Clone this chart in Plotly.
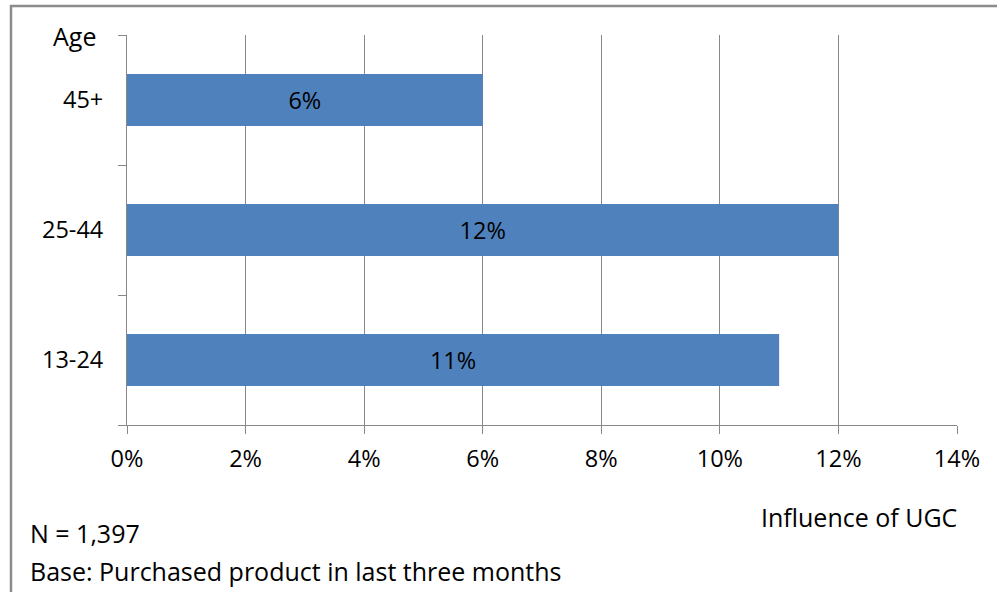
import plotly.graph_objects as go

categories = ["13-24", "25-44", "45+"]
values = [11, 12, 6]
bar_labels = ["11%", "12%", "6%"]
x_ticks = [0, 2, 4, 6, 8, 10, 12, 14]
x_tick_labels = ["0%", "2%", "4%", "6%", "8%", "10%", "12%", "14%"]

W, H = 997, 592
L, R, T, B = 127, 40, 35, 167
pw = W - L - R
ph = H - T - B

def px_x(p):
    return (p - L) / pw

def px_y(p):
    return (H - B - p) / ph

FONT = "Open Sans, sans-serif"
FS = 23.5
FS_NOTE = 25
GRID = "#888888"

fig = go.Figure(go.Bar(
    y=categories, x=values, orientation="h",
    marker=dict(color="#4F81BD", line=dict(width=0)),
    width=0.4,
    text=bar_labels, textposition="inside", insidetextanchor="middle",
    textfont=dict(family=FONT, size=FS, color="#000000"),
    hoverinfo="skip",
))

fig.update_layout(
    width=W, height=H,
    margin=dict(l=L, r=R, t=T, b=B),
    paper_bgcolor="white", plot_bgcolor="white",
    showlegend=False,
    uniformtext=dict(minsize=FS, mode="show"),
    font=dict(family=FONT, size=FS, color="#000000"),
    xaxis=dict(
        range=[0, 14], tickvals=x_ticks, ticktext=x_tick_labels,
        showgrid=True, gridcolor=GRID, gridwidth=1,
        showline=True, linecolor=GRID, linewidth=1,
        ticks="outside", ticklen=8, tickcolor=GRID,
        zeroline=False, fixedrange=True,
        tickfont=dict(family=FONT, size=FS),
        ticklabelstandoff=5,
    ),
    yaxis=dict(
        type="category", categoryorder="array", categoryarray=categories,
        range=[-0.5, 2.5],
        tickson="boundaries",
        showgrid=False,
        showline=True, linecolor=GRID, linewidth=1,
        ticks="outside", ticklen=8, tickcolor=GRID,
        tickfont=dict(family=FONT, size=FS),
        ticklabelstandoff=18,
        fixedrange=True,
    ),
)

annotations = [
    dict(text="Age", x=px_x(74), y=px_y(36), xanchor="center", yanchor="middle"),
    dict(text="Influence of UGC", x=px_x(959), y=px_y(517), xanchor="right", yanchor="middle"),
    dict(text="N = 1,397", x=px_x(28), y=px_y(533), xanchor="left", yanchor="middle"),
    dict(text="Base: Purchased product in last three months", x=px_x(28), y=px_y(571), xanchor="left", yanchor="middle"),
]
for a in annotations:
    a.update(xref="paper", yref="paper", showarrow=False,
             font=dict(family=FONT, size=FS_NOTE, color="#000000"))
fig.update_layout(annotations=annotations)

fig.add_shape(type="rect", xref="paper", yref="paper",
              x0=px_x(11), y0=px_y(620), x1=px_x(1020), y1=px_y(6),
              line=dict(color="#8c8c8c", width=2.5), fillcolor="rgba(0,0,0,0)",
              layer="below")

fig.write_html("out.html")
